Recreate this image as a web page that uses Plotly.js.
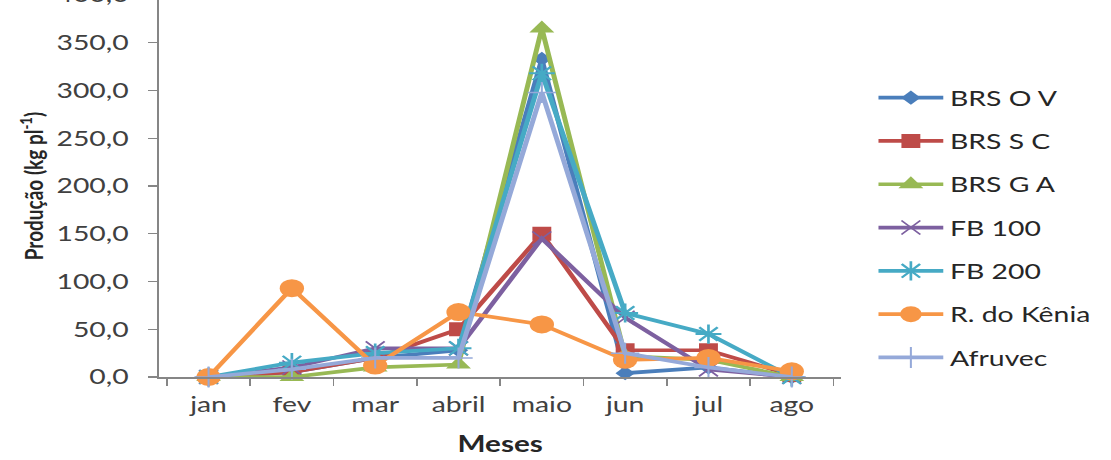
<!DOCTYPE html>
<html>
<head>
<meta charset="utf-8">
<script src="https://cdn.plot.ly/plotly-3.0.1.min.js"></script>
<style>
  html, body { margin: 0; padding: 0; background: #ffffff; overflow: hidden; width: 1111px; height: 460px; }
  #wrap { position: absolute; left: 0; top: -20px; width: 823px; height: 480px; transform: scaleX(1.35); transform-origin: 0 0; }
  #chart { width: 823px; height: 480px; }
</style>
</head>
<body>
<div id="wrap"><div id="chart"></div></div>
<script>
// ---- data ----
const months = ["jan", "fev", "mar", "abril", "maio", "jun", "jul", "ago"];
const seriesNames = ["BRS O V", "BRS S C", "BRS G A", "FB 100", "FB 200", "R. do Kênia", "Afruvec"];
const brsOV    = [0, 5, 20, 28, 333, 4, 10, 0];
const brsSC    = [0, 5, 20, 50, 150, 28, 28, 2];
const brsGA    = [0, 0, 10, 13, 365, 22, 18, 0];
const fb100    = [0, 10, 30, 30, 145, 62, 8, 0];
const fb200    = [0, 15, 25, 30, 318, 67, 45, 0];
const rKenia   = [0, 93, 12, 68, 55, 18, 20, 6];
const afruvec  = [0, 8, 20, 20, 298, 25, 10, 0];
const yTicks   = [0, 50, 100, 150, 200, 250, 300, 350, 400];

// ---- styles ----
const styles = [
  {color: "#4A7EBB", symbol: "diamond",        size: 11, lw: 0},
  {color: "#BE4B48", symbol: "square",         size: 14, lw: 0},
  {color: "#98B954", symbol: "triangle-up",    size: 16, lw: 0},
  {color: "#7D60A0", symbol: "x-thin-open",    size: 14, lw: 1.5},
  {color: "#46AAC5", symbol: "asterisk-open",  size: 16, lw: 2},
  {color: "#F79646", symbol: "circle",         size: 18, lw: 0},
  {color: "#95A9D9", symbol: "cross-thin-open",size: 15, lw: 1.5}
];
const values = [brsOV, brsSC, brsGA, fb100, fb200, rKenia, afruvec];

const traces = values.map((v, i) => ({
  type: "scatter",
  mode: "lines+markers",
  x: months,
  y: v,
  name: seriesNames[i],
  legendgroup: seriesNames[i],
  line: {color: styles[i].color, width: 3.7},
  marker: {
    color: styles[i].color,
    symbol: styles[i].symbol,
    size: styles[i].size,
    line: {color: styles[i].color, width: styles[i].lw}
  },
  cliponaxis: false
}));

const fontFam = "Lato, 'Open Sans', sans-serif";
const layout = {
  width: 823, height: 480,
  margin: {l: 118, r: 200, t: 15, b: 83, autoexpand: false},
  paper_bgcolor: "#ffffff",
  plot_bgcolor: "#ffffff",
  separators: ",.",
  font: {family: fontFam, size: 21, color: "#404040"},
  showlegend: true,
  legend: {
    x: 1.045, xanchor: "left",
    y: 0.784, yanchor: "top",
    font: {family: fontFam, size: 21, color: "#262626"},
    tracegroupgap: 13,
    itemwidth: 48,
    bgcolor: "rgba(0,0,0,0)"
  },
  xaxis: {
    type: "category",
    categoryarray: months,
    tickson: "boundaries",
    ticks: "outside",
    ticklen: 7,
    tickwidth: 1.3,
    tickcolor: "#868686",
    showline: true,
    linecolor: "#868686",
    linewidth: 1.5,
    showgrid: false,
    zeroline: false,
    ticklabelstandoff: 8,
    tickfont: {family: fontFam, size: 21, color: "#404040"},
    title: {text: "<b>Meses</b>", font: {family: fontFam, size: 22, color: "#262626"}, standoff: 22}
  },
  yaxis: {
    range: [0, 400],
    tickvals: yTicks,
    tickformat: ".1f",
    ticks: "outside",
    ticklen: 7,
    tickwidth: 1.3,
    tickcolor: "#868686",
    showline: true,
    linecolor: "#868686",
    linewidth: 1.5,
    showgrid: false,
    zeroline: false,
    ticklabelstandoff: 10,
    tickfont: {family: fontFam, size: 21, color: "#404040"},
    title: {text: "<b>Produção (kg pl<sup>-1</sup>)</b>", font: {family: fontFam, size: 19, color: "#262626"}, standoff: 4}
  }
};

Plotly.newPlot("chart", traces, layout, {staticPlot: true, displayModeBar: false});
</script>
</body>
</html>
